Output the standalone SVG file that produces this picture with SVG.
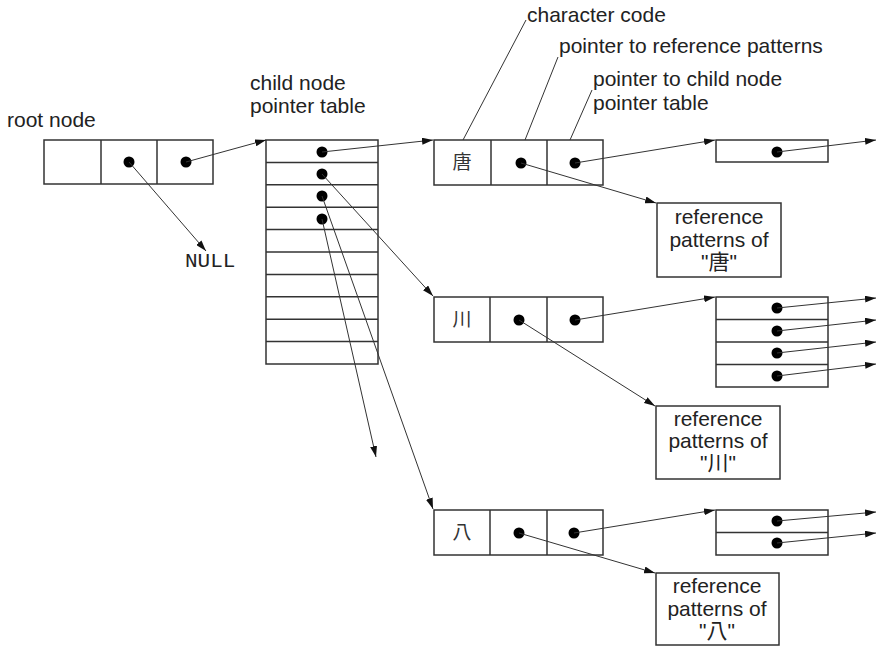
<svg xmlns="http://www.w3.org/2000/svg" width="877" height="646" viewBox="0 0 877 646">
  <style>
    .box { fill: #fff; stroke: #333; stroke-width: 1.5; }
    .div { stroke: #333; stroke-width: 1.5; }
    .dot { fill: #000; }
    .lbl { font-family: "Liberation Sans", Arial, sans-serif; font-size: 21px; fill: #222; }
    .mid { text-anchor: middle; }
    .cjk { font-family: "Noto Sans CJK JP", "Noto Sans CJK SC", sans-serif; font-size: 19px; fill: #333; text-anchor: middle; }
    .ref { font-family: "Liberation Sans", "Noto Sans CJK JP", sans-serif; font-size: 21px; fill: #222; text-anchor: middle; }
    .mono { font-family: "Liberation Mono", "Courier New", monospace; font-size: 21px; fill: #222; }
    .ptr { stroke: #333; stroke-width: 1; fill: none; marker-end: url(#head); }
    .lead { stroke: #333; stroke-width: 1; fill: none; }
  </style>
  <defs>
    <marker id="head" viewBox="0 0 11 7" refX="11" refY="3.5" markerWidth="11" markerHeight="7" markerUnits="userSpaceOnUse" orient="auto">
      <path d="M0,0 L11,3.5 L0,7 z" fill="#111"/>
    </marker>
  </defs>

  <rect width="877" height="646" fill="#fff"/>

  <!-- captions -->
  <g id="captions">
    <text class="lbl" x="7" y="127">root node</text>
    <text class="lbl" x="250" y="90">child node</text>
    <text class="lbl" x="250" y="113">pointer table</text>
    <text class="lbl" x="527" y="22">character code</text>
    <text class="lbl" x="559" y="53">pointer to reference patterns</text>
    <text class="lbl" x="593" y="86">pointer to child node</text>
    <text class="lbl" x="593" y="110">pointer table</text>
    <text class="mono" x="185" y="267">NULL</text>
  </g>

  <!-- root node -->
  <g id="root-node">
    <rect class="box" x="44" y="140" width="169" height="44"/>
    <line class="div" x1="101" y1="140" x2="101" y2="184"/>
    <line class="div" x1="157" y1="140" x2="157" y2="184"/>
    <circle class="dot" cx="129" cy="162" r="5.5"/>
    <circle class="dot" cx="186" cy="162" r="5.5"/>
  </g>

  <!-- child node pointer table (10 slots) -->
  <g id="child-table">
    <rect class="box" x="266" y="140" width="112" height="224"/>
    <line class="div" x1="266" y1="162.4" x2="378" y2="162.4"/>
    <line class="div" x1="266" y1="184.8" x2="378" y2="184.8"/>
    <line class="div" x1="266" y1="207.2" x2="378" y2="207.2"/>
    <line class="div" x1="266" y1="229.6" x2="378" y2="229.6"/>
    <line class="div" x1="266" y1="252" x2="378" y2="252"/>
    <line class="div" x1="266" y1="274.4" x2="378" y2="274.4"/>
    <line class="div" x1="266" y1="296.8" x2="378" y2="296.8"/>
    <line class="div" x1="266" y1="319.2" x2="378" y2="319.2"/>
    <line class="div" x1="266" y1="341.6" x2="378" y2="341.6"/>
    <circle class="dot" cx="322" cy="152" r="5.5"/>
    <circle class="dot" cx="322" cy="174" r="5.5"/>
    <circle class="dot" cx="322" cy="196" r="5.5"/>
    <circle class="dot" cx="322" cy="219" r="5.5"/>
  </g>

  <!-- node 唐 -->
  <g id="node-tang">
    <rect class="box" x="434" y="140" width="169" height="45"/>
    <line class="div" x1="491" y1="140" x2="491" y2="185"/>
    <line class="div" x1="547" y1="140" x2="547" y2="185"/>
    <text class="cjk" x="462" y="169">唐</text>
    <circle class="dot" cx="521" cy="163" r="5.5"/>
    <circle class="dot" cx="575" cy="163" r="5.5"/>
  </g>
  <g id="table-tang">
    <rect class="box" x="716" y="140" width="112" height="22"/>
    <circle class="dot" cx="777" cy="152" r="5.5"/>
  </g>
  <g id="refs-tang">
    <rect class="box" x="657" y="203" width="124" height="74"/>
    <text class="ref" x="719" y="224">reference</text>
    <text class="ref" x="719" y="247">patterns of</text>
    <text class="ref" x="719" y="269">"唐"</text>
  </g>

  <!-- node 川 -->
  <g id="node-kawa">
    <rect class="box" x="434" y="297" width="169" height="45"/>
    <line class="div" x1="490" y1="297" x2="490" y2="342"/>
    <line class="div" x1="547" y1="297" x2="547" y2="342"/>
    <text class="cjk" x="462" y="326">川</text>
    <circle class="dot" cx="519" cy="320" r="5.5"/>
    <circle class="dot" cx="575" cy="320" r="5.5"/>
  </g>
  <g id="table-kawa">
    <rect class="box" x="716" y="297" width="112" height="90"/>
    <line class="div" x1="716" y1="319.5" x2="828" y2="319.5"/>
    <line class="div" x1="716" y1="342" x2="828" y2="342"/>
    <line class="div" x1="716" y1="364.5" x2="828" y2="364.5"/>
    <circle class="dot" cx="777" cy="308" r="5.5"/>
    <circle class="dot" cx="777" cy="331" r="5.5"/>
    <circle class="dot" cx="777" cy="353" r="5.5"/>
    <circle class="dot" cx="777" cy="376" r="5.5"/>
  </g>
  <g id="refs-kawa">
    <rect class="box" x="656" y="406" width="124" height="73"/>
    <text class="ref" x="718" y="426">reference</text>
    <text class="ref" x="718" y="448">patterns of</text>
    <text class="ref" x="718" y="470">"川"</text>
  </g>

  <!-- node 八 -->
  <g id="node-hachi">
    <rect class="box" x="434" y="510" width="169" height="45"/>
    <line class="div" x1="490" y1="510" x2="490" y2="555"/>
    <line class="div" x1="547" y1="510" x2="547" y2="555"/>
    <text class="cjk" x="462" y="539">八</text>
    <circle class="dot" cx="519" cy="533" r="5.5"/>
    <circle class="dot" cx="574" cy="533" r="5.5"/>
  </g>
  <g id="table-hachi">
    <rect class="box" x="716" y="510" width="112" height="45"/>
    <line class="div" x1="716" y1="532.5" x2="828" y2="532.5"/>
    <circle class="dot" cx="777" cy="521" r="5.5"/>
    <circle class="dot" cx="777" cy="543" r="5.5"/>
  </g>
  <g id="refs-hachi">
    <rect class="box" x="656" y="573" width="123" height="72"/>
    <text class="ref" x="717" y="593">reference</text>
    <text class="ref" x="717" y="616">patterns of</text>
    <text class="ref" x="717" y="638">"八"</text>
  </g>

  <!-- connectors -->
  <g id="connectors">
    <!-- caption leaders -->
    <line class="lead" x1="463" y1="140" x2="526" y2="20"/>
    <line class="lead" x1="525" y1="140" x2="558" y2="57"/>
    <line class="lead" x1="570" y1="140" x2="592" y2="90"/>
    <!-- root node pointers -->
    <line class="ptr" x1="129" y1="162" x2="206" y2="251"/>
    <line class="ptr" x1="186" y1="162" x2="266" y2="140"/>
    <!-- child table pointers -->
    <line class="ptr" x1="322" y1="152" x2="433" y2="140"/>
    <line class="ptr" x1="322" y1="174" x2="433" y2="296"/>
    <line class="ptr" x1="322" y1="196" x2="433" y2="509"/>
    <line class="ptr" x1="322" y1="219" x2="376" y2="457"/>
    <!-- 唐 -->
    <line class="ptr" x1="521" y1="163" x2="656" y2="203"/>
    <line class="ptr" x1="575" y1="163" x2="715" y2="140"/>
    <line class="ptr" x1="777" y1="152" x2="876" y2="140"/>
    <!-- 川 -->
    <line class="ptr" x1="519" y1="320" x2="655" y2="406"/>
    <line class="ptr" x1="575" y1="320" x2="715" y2="297"/>
    <line class="ptr" x1="777" y1="308" x2="876" y2="298"/>
    <line class="ptr" x1="777" y1="331" x2="876" y2="320"/>
    <line class="ptr" x1="777" y1="353" x2="876" y2="342"/>
    <line class="ptr" x1="777" y1="376" x2="876" y2="364"/>
    <!-- 八 -->
    <line class="ptr" x1="519" y1="533" x2="655" y2="573"/>
    <line class="ptr" x1="574" y1="533" x2="715" y2="510"/>
    <line class="ptr" x1="777" y1="521" x2="876" y2="512"/>
    <line class="ptr" x1="777" y1="543" x2="876" y2="533"/>
  </g>
</svg>
